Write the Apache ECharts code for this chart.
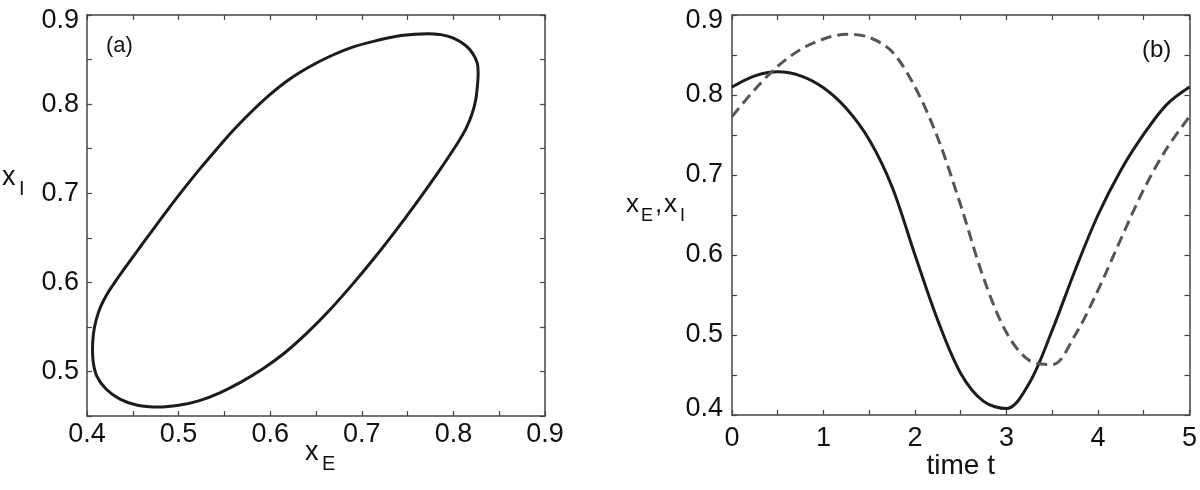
<!DOCTYPE html>
<html>
<head>
<meta charset="utf-8">
<script src="https://cdn.jsdelivr.net/npm/echarts@6/dist/echarts.min.js"></script>
<style>
html,body{margin:0;padding:0;background:#fff;}
#chart{width:1200px;height:490px;}
</style>
</head>
<body>
<div id="chart"></div>
<script>
// Panel (b): time series
const timeT = [0,0.25,0.5,0.75,1,1.25,1.5,1.75,2,2.25,2.5,2.75,3,3.25,3.5,3.75,4,4.25,4.5,4.75,5];
const xE    = [0.810,0.824,0.829,0.824,0.809,0.783,0.744,0.685,0.600,0.518,0.452,0.417,0.408,0.440,0.506,0.581,0.650,0.706,0.751,0.788,0.810];
const xI    = [0.773,0.807,0.836,0.857,0.870,0.876,0.872,0.854,0.810,0.746,0.662,0.571,0.503,0.468,0.463,0.500,0.556,0.620,0.682,0.733,0.773];

// Panel (a): phase-plane loop (x_E, x_I)
const loopXE = [0.772,0.786,0.800,0.813,0.821,0.826,0.827,0.826,0.824,0.820,0.814,0.805,0.785,0.763,0.740,0.715,0.690,0.665,0.640,0.616,0.592,0.568,0.545,0.522,0.500,0.478,0.455,0.436,0.421,0.411,0.407,0.406,0.407,0.410,0.415,0.422,0.431,0.442,0.454,0.469,0.487,0.505,0.523,0.542,0.561,0.580,0.600,0.621,0.643,0.666,0.690,0.715,0.743];
const loopXI = [0.879,0.878,0.874,0.866,0.857,0.846,0.834,0.818,0.803,0.788,0.773,0.757,0.726,0.694,0.662,0.629,0.598,0.569,0.543,0.521,0.503,0.488,0.476,0.467,0.462,0.460,0.462,0.469,0.480,0.494,0.509,0.524,0.542,0.558,0.573,0.587,0.601,0.617,0.634,0.655,0.680,0.704,0.727,0.750,0.772,0.792,0.811,0.828,0.842,0.854,0.864,0.871,0.877];

const panelLabels = ['(a)', '(b)'];
const xLabelsA = ['0.4','0.5','0.6','0.7','0.8','0.9'];
const yLabelsA = ['0.5','0.6','0.7','0.8','0.9'];
const xLabelsB = ['0','1','2','3','4','5'];
const yLabelsB = ['0.4','0.5','0.6','0.7','0.8','0.9'];

const FONT = 'Liberation Sans, Arial, sans-serif';
const AX = '#444';

function fmtTenths(list, topPad, botPad){
  return function(v){
    if (Math.round(v*100) % 10 !== 0) return '';
    const s = (Math.round(v*10)/10).toFixed(1);
    if (list.indexOf(s) < 0) return '';
    if (s === topPad) return '{t|' + s + '}';
    if (s === botPad) return '{b|' + s + '}';
    return s;
  };
}
function fmtInt(list){
  return function(v){
    if (Math.abs(v - Math.round(v)) > 1e-6) return '';
    const s = String(Math.round(v));
    return list.indexOf(s) >= 0 ? s : '';
  };
}
const labelRich = {
  t: {fontFamily: FONT, fontSize: 27, color:'#111', padding:[12,0,0,0]},
  b: {fontFamily: FONT, fontSize: 27, color:'#111', padding:[0,0,12,0]}
};
function axisBase(extra){
  return Object.assign({
    type:'value',
    axisLine:{show:true,onZero:false,lineStyle:{color:AX,width:1.5}},
    axisTick:{show:true,inside:true,length:5,lineStyle:{color:AX,width:1.2}},
    splitLine:{show:false},
    axisLabel:{show:false}
  }, extra);
}
function shownLabel(formatter, margin){
  return {show:true, formatter, margin, fontFamily:FONT, fontSize:27, color:'#111', rich:labelRich, showMinLabel:true, showMaxLabel:true};
}

const m = loopXE.length;
const loopIdx = [m-1].concat(loopXE.map((_, i) => i)).concat([0, 1]);
const loopData = loopIdx.map(i => [loopXE[i], loopXI[i]]);
const eData = timeT.map((t, i) => [t, xE[i]]);
const iData = timeT.map((t, i) => [t, xI[i]]);

const option = {
  animation:false,
  backgroundColor:'#fff',
  grid:[
    {left:87, top:15, width:458, height:401},
    {left:732, top:15, width:459, height:400}
  ],
  xAxis:[
    axisBase({gridIndex:0, min:0.4, max:0.9, interval:0.05, position:'bottom', axisLabel:shownLabel(fmtTenths(xLabelsA), 5)}),
    axisBase({gridIndex:0, min:0.4, max:0.9, interval:0.05, position:'top'}),
    axisBase({gridIndex:1, min:0, max:5, interval:0.5, position:'bottom', axisLabel:shownLabel(fmtInt(xLabelsB), 10)}),
    axisBase({gridIndex:1, min:0, max:5, interval:0.5, position:'top'})
  ],
  yAxis:[
    axisBase({gridIndex:0, min:0.45, max:0.9, interval:0.05, position:'left', axisLabel:shownLabel(fmtTenths(yLabelsA, '0.9', null), 8)}),
    axisBase({gridIndex:0, min:0.45, max:0.9, interval:0.05, position:'right'}),
    axisBase({gridIndex:1, min:0.4, max:0.9, interval:0.05, position:'left', axisLabel:shownLabel(fmtTenths(yLabelsB, '0.9', '0.4'), 9)}),
    axisBase({gridIndex:1, min:0.4, max:0.9, interval:0.05, position:'right'})
  ],
  series:[
    {type:'line', xAxisIndex:0, yAxisIndex:0, data:loopData, smooth:0.33, showSymbol:false, symbol:'none',
     lineStyle:{color:'#1c1c1c', width:3}},
    {type:'line', xAxisIndex:2, yAxisIndex:2, data:eData, smooth:0.33, showSymbol:false, symbol:'none',
     lineStyle:{color:'#1c1c1c', width:3}},
    {type:'line', xAxisIndex:2, yAxisIndex:2, data:iData, smooth:0.33, showSymbol:false, symbol:'none',
     lineStyle:{color:'#555', width:3, type:[11,6]}}
  ],
  graphic:[
    {type:'text', x:106, y:46, style:{text:panelLabels[0], font:'22px ' + FONT, fill:'#111', textVerticalAlign:'middle'}},
    {type:'text', x:1142, y:50, style:{text:panelLabels[1], font:'24px ' + FONT, fill:'#111', textVerticalAlign:'middle'}},
    // y name panel (a): x_I
    {type:'text', x:2, y:178, style:{text:'x', font:'27px ' + FONT, fill:'#111', textVerticalAlign:'middle'}},
    {type:'text', x:19, y:189, style:{text:'I', font:'20px ' + FONT, fill:'#111', textVerticalAlign:'middle'}},
    // x name panel (a): x_E
    {type:'text', x:305, y:453, style:{text:'x', font:'27px ' + FONT, fill:'#111', textVerticalAlign:'middle'}},
    {type:'text', x:322, y:464, style:{text:'E', font:'20px ' + FONT, fill:'#111', textVerticalAlign:'middle'}},
    // y name panel (b): x_E,x_I
    {type:'text', x:626, y:205, style:{text:'x', font:'26px ' + FONT, fill:'#111', textVerticalAlign:'middle'}},
    {type:'text', x:641, y:216, style:{text:'E', font:'18px ' + FONT, fill:'#111', textVerticalAlign:'middle'}},
    {type:'text', x:655, y:205, style:{text:',', font:'26px ' + FONT, fill:'#111', textVerticalAlign:'middle'}},
    {type:'text', x:664, y:205, style:{text:'x', font:'26px ' + FONT, fill:'#111', textVerticalAlign:'middle'}},
    {type:'text', x:680, y:216, style:{text:'I', font:'18px ' + FONT, fill:'#111', textVerticalAlign:'middle'}},
    // x name panel (b)
    {type:'text', x:995, y:466, style:{text:'time t', font:'28px ' + FONT, fill:'#111', textAlign:'right', textVerticalAlign:'middle'}}
  ]
};

const chart = echarts.init(document.getElementById('chart'), null, {renderer:'canvas'});
chart.setOption(option);
</script>
</body>
</html>
